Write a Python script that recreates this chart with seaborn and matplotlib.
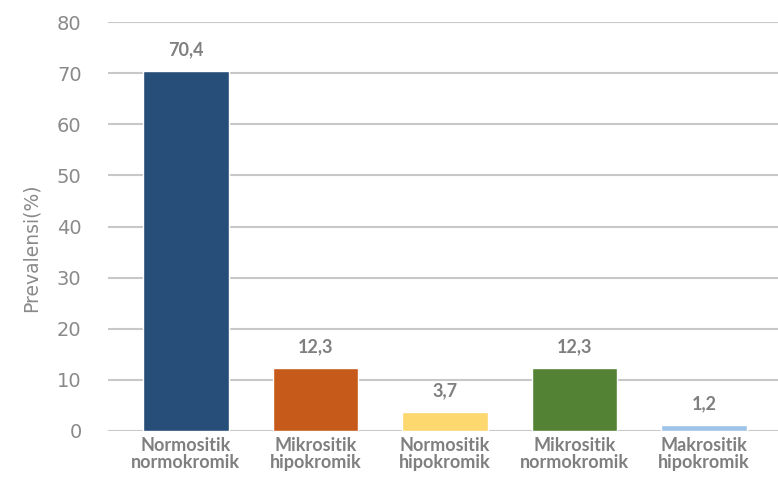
import matplotlib
matplotlib.use("Agg")
import matplotlib.pyplot as plt
import seaborn as sns
import pandas as pd

categories = ["Normositik\nnormokromik", "Mikrositik\nhipokromik", "Normositik\nhipokromik",
              "Mikrositik\nnormokromik", "Makrositik\nhipokromik"]
values = [70.4, 12.3, 3.7, 12.3, 1.2]
value_labels = ["70,4", "12,3", "3,7", "12,3", "1,2"]
colors = ["#264E78", "#C55A1A", "#FDD86E", "#548235", "#9DC3E6"]
yticks = [0, 10, 20, 30, 40, 50, 60, 70, 80]

sns.set_theme(style="white")
plt.rcParams["font.family"] = ["Lato", "DejaVu Sans"]

df = pd.DataFrame({"kategori": categories, "prevalensi": values})

fig = plt.figure(figsize=(7.78, 4.78), dpi=100)
ax = fig.add_axes([108 / 778, 1 - 431 / 478, 1 - 108 / 778, 409 / 478])

sns.barplot(data=df, x="kategori", y="prevalensi", hue="kategori", palette=colors,
            width=0.66, legend=False, ax=ax, saturation=1, zorder=3)

gray = "#7F7F7F"
ax.set_ylim(0, 80)
ax.set_xlim(-0.6, 4.57)
ax.set_yticks(yticks)
ax.set_yticklabels([str(t) for t in yticks], fontsize=14, color="#8A8A8A",
                   family="DejaVu Sans")
ax.tick_params(axis="y", length=0, pad=19)
ax.tick_params(axis="x", length=0, pad=4)
for lbl in ax.get_xticklabels():
    lbl.set_fontsize(13)
    lbl.set_fontweight("bold")
    lbl.set_color(gray)
    lbl.set_linespacing(1.0)

ax.yaxis.grid(True, color="#C8C8C8", linewidth=1.5, zorder=0)
ax.xaxis.grid(False)
for s in ax.spines.values():
    s.set_visible(False)

ax.set_xlabel("")
ax.set_ylabel("Prevalensi(%)", fontsize=13.5, color="#8A8A8A",
              family="DejaVu Sans", va="center")
ax.yaxis.set_label_coords(-0.115, 0.447)

for i, (v, t) in enumerate(zip(values, value_labels)):
    ax.annotate(t, (i, v), xytext=(0, 9), textcoords="offset points",
                ha="center", va="bottom", fontsize=13, fontweight="bold", color=gray)

fig.savefig("out.png", dpi=100)
